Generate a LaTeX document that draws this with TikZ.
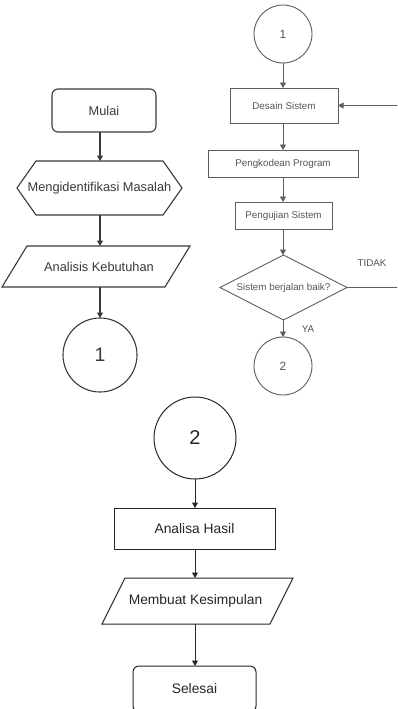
\documentclass[tikz,border=0pt]{standalone}
\usepackage{fontspec}
\setmainfont{Liberation Sans}
\usetikzlibrary{arrows.meta}
\definecolor{lcol}{HTML}{3A3A3A}
\definecolor{rcol}{HTML}{5E5E5E}
\definecolor{bcol}{HTML}{262626}
\definecolor{rtxt}{HTML}{555555}
\begin{document}
\begin{tikzpicture}[x=1pt,y=-1pt,
  box/.style={draw, inner sep=0pt, outer sep=0pt, align=center},
  shapebox/.style={inner sep=0pt, outer sep=0pt, align=center},
  conn/.style={circle, draw, inner sep=0pt, outer sep=0pt},
  arr/.style={-{Triangle[length=5.5pt,width=6pt]}},
  leftpart/.style={draw=lcol, text=lcol, line width=1.1pt, font=\fontsize{12.8}{15}\selectfont},
  rightpart/.style={draw=rcol, text=rtxt, line width=0.9pt, font=\fontsize{9.8}{12}\selectfont},
  bottompart/.style={draw=bcol, text=bcol, line width=1pt, font=\fontsize{13.8}{16}\selectfont}
]
\useasboundingbox (0,0) rectangle (397,709);
\clip (0,0) rectangle (397,709);
\fill[white] (0,0) rectangle (397,709);

% ---------------- left column ----------------
\begin{scope}[leftpart]
\node[box, rounded corners=6pt, minimum width=104pt, minimum height=43pt] (mulai) at (104,110.5) {Mulai};
\node[shapebox, minimum width=165pt, minimum height=54pt] (ident) at (99.5,188) {Mengidentifikasi Masalah};
\draw (ident.west) -- ([xshift=19pt]ident.north west) -- ([xshift=-19pt]ident.north east)
  -- (ident.east) -- ([xshift=-19pt]ident.south east) -- ([xshift=19pt]ident.south west) -- cycle;
\node[shapebox, minimum width=188pt, minimum height=41pt] (analisis) at (96,266.5) {\hspace*{6pt}Analisis Kebutuhan};
\draw (analisis.south west) -- ([xshift=25pt]analisis.north west) -- (analisis.north east)
  -- ([xshift=-25pt]analisis.south east) -- cycle;
\node[conn, minimum size=74pt, font=\fontsize{19.5}{22}\selectfont] (c1L) at (100,355) {1};
\draw[arr] (mulai.south -| 100,0) -- (ident.north -| 100,0);
\draw[arr] (ident.south -| 100,0) -- (analisis.north -| 100,0);
\draw[arr] (analisis.south -| c1L) -- (c1L.north);
\end{scope}

% ---------------- right column ----------------
\begin{scope}[rightpart]
\node[conn, minimum size=58pt, font=\fontsize{12}{14}\selectfont] (c1R) at (283,34) {1};
\node[box, minimum width=108pt, minimum height=35pt] (desain) at (284,105.5) {Desain Sistem};
\node[box, minimum width=150pt, minimum height=27pt] (kode) at (283,163.5) {Pengkodean Program};
\node[box, minimum width=97pt, minimum height=27pt] (uji) at (283.5,215.5) {Pengujian Sistem};
\node[shapebox, minimum width=127pt, minimum height=65pt] (cek) at (283.5,287.5) {Sistem berjalan baik?};
\draw (cek.west) -- (cek.north) -- (cek.east) -- (cek.south) -- cycle;
\node[conn, minimum size=58pt, font=\fontsize{12}{14}\selectfont] (c2R) at (283,366) {2};
\coordinate (back) at (399,287.5);
\draw[arr] (c1R.south) -- (desain.north -| c1R);
\draw[arr] (desain.south -| c1R) -- (kode.north -| c1R);
\draw[arr] (kode.south -| c1R) -- (uji.north -| c1R);
\draw[arr] (uji.south -| c1R) -- (cek.north -| c1R);
\draw[arr] (cek.south -| c1R) -- (c2R.north);
\draw[arr] (cek.east) -- (back) |- (desain.east);
\node[shapebox, text=rtxt] (tidak) at (372,263) {TIDAK};
\node[shapebox, text=rtxt] (ya) at (308,329) {YA};
\end{scope}

% ---------------- bottom column ----------------
\begin{scope}[bottompart]
\node[conn, minimum size=82pt, font=\fontsize{20}{24}\selectfont] (c2B) at (195,438) {2};
\node[box, minimum width=161pt, minimum height=41pt] (hasil) at (194.5,528.5) {Analisa Hasil};
\node[shapebox, minimum width=191pt, minimum height=46pt] (simpul) at (197.5,601) {Membuat Kesimpulan\hspace*{4pt}};
\draw (simpul.south west) -- ([xshift=23pt]simpul.north west) -- (simpul.north east)
  -- ([xshift=-23pt]simpul.south east) -- cycle;
\node[box, rounded corners=6pt, minimum width=123pt, minimum height=46pt] (selesai) at (194.5,689) {Selesai};
\draw[arr] (c2B.south) -- (hasil.north -| c2B);
\draw[arr] (hasil.south -| c2B) -- (simpul.north -| c2B);
\draw[arr] (simpul.south -| c2B) -- (selesai.north -| c2B);
\end{scope}
\end{tikzpicture}
\end{document}
